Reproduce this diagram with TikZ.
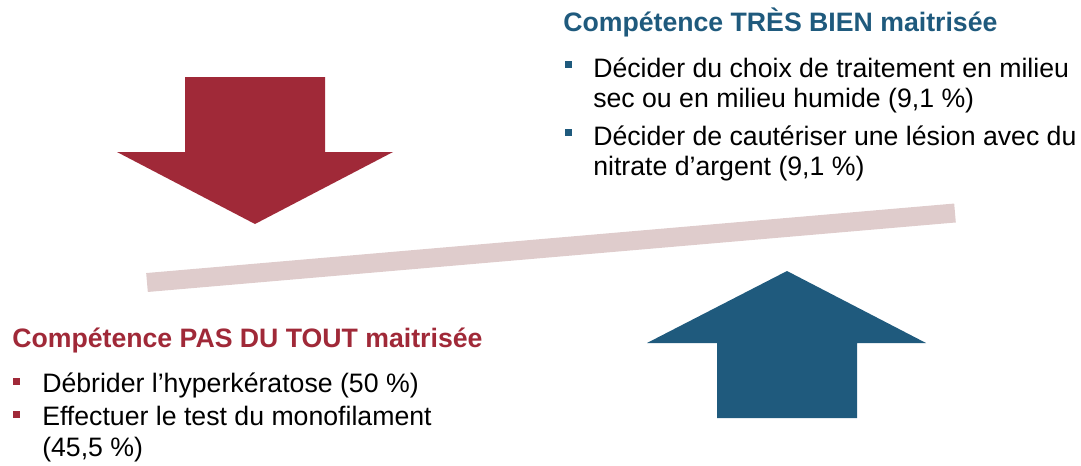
\documentclass[tikz,border=0pt]{standalone}
\usepackage{fontspec}
\setmainfont{Liberation Sans}
\definecolor{lowred}{RGB}{160, 41, 56}
\definecolor{highblue}{RGB}{31, 90, 125}
\definecolor{beampink}{RGB}{223, 204, 204}
\usetikzlibrary{calc}

\tikzset{
  headtext/.style={font=\bfseries\fontsize{20}{24}\selectfont, anchor=base west, inner sep=0pt},
  itemtext/.style={font=\fontsize{20}{24}\selectfont, anchor=base west, inner sep=0pt}
}

\begin{document}
\begin{tikzpicture}[x=0.75pt, y=-0.75pt]
  \useasboundingbox (0,0) rectangle (1081,465);

  % Down arrow (not mastered)
  \fill[lowred] (185,77) -- (325,77) -- (325,152) -- (393,152) -- (255,224)
    -- (117,152) -- (185,152) -- cycle;

  % Up arrow (well mastered)
  \fill[highblue] (787,271) -- (926,343) -- (857,343) -- (857,418)
    -- (717,418) -- (717,343) -- (647,343) -- cycle;

  % Tilted beam
  \draw[beampink, line width=14.25pt] (147,282.5) -- (955,213);

  % Competence TRES BIEN maitrisee
  \node[headtext, text=highblue] (hightitle) at (563,31) {Compétence TRÈS BIEN maitrisée};
  \node[itemtext] (high1a) at (593,77) {Décider du choix de traitement en milieu};
  \node[itemtext] (high1b) at (593,107) {sec ou en milieu humide (9,1 \%)};
  \node[itemtext] (high2a) at (593,145) {Décider de cautériser une lésion avec du};
  \node[itemtext] (high2b) at (593,175) {nitrate d’argent (9,1 \%)};
  \fill[highblue] ($(high1a.base west)+(-28,-9)$) rectangle ++(7,-7);
  \fill[highblue] ($(high2a.base west)+(-28,-9)$) rectangle ++(7,-7);

  % Competence PAS DU TOUT maitrisee
  \node[headtext, text=lowred] (lowtitle) at (12,347) {Compétence PAS DU TOUT maitrisée};
  \node[itemtext] (low1a) at (42,392) {Débrider l’hyperkératose (50 \%)};
  \node[itemtext] (low2a) at (42,425) {Effectuer le test du monofilament};
  \node[itemtext] (low2b) at (42,456) {(45,5 \%)};
  \fill[lowred] ($(low1a.base west)+(-29,-7)$) rectangle ++(7,-7);
  \fill[lowred] ($(low2a.base west)+(-29,-7)$) rectangle ++(7,-7);
\end{tikzpicture}
\end{document}
